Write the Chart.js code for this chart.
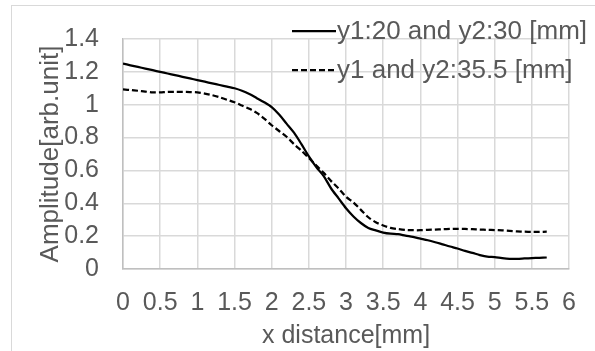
<!DOCTYPE html>
<html>
<head>
<meta charset="utf-8">
<script src="https://cdn.jsdelivr.net/npm/chart.js@4"></script>
<style>
    html, body { margin: 0; padding: 0; background: #fff; }
    #wrap { width: 595px; height: 351px; position: relative; }
</style>
</head>
<body>
<div id="wrap"><canvas id="ampChart" width="595" height="351"></canvas></div>
<script>
// x distance [mm]
const xDistance = [
    0, 0.1, 0.2, 0.3, 0.4, 0.5, 0.6, 0.7, 0.8, 0.9,
    1, 1.1, 1.2, 1.3, 1.4, 1.5, 1.6, 1.7, 1.8, 1.9,
    2, 2.1, 2.2, 2.3, 2.4, 2.5, 2.6, 2.7, 2.8, 2.9,
    3, 3.1, 3.2, 3.3, 3.4, 3.5, 3.6, 3.7, 3.8, 3.9,
    4, 4.1, 4.2, 4.3, 4.4, 4.5, 4.6, 4.7, 4.8, 4.9,
    5, 5.1, 5.2, 5.3, 5.4, 5.5, 5.6, 5.7
];

// y1:20 and y2:30 [mm]
const ampSolid = [
    1.25, 1.24, 1.23, 1.22, 1.21, 1.2, 1.19, 1.18, 1.17, 1.16,
    1.15, 1.14, 1.13, 1.12, 1.11, 1.1, 1.085, 1.065, 1.04, 1.015,
    0.985, 0.94, 0.885, 0.83, 0.76, 0.685, 0.62, 0.565, 0.49, 0.43,
    0.37, 0.32, 0.28, 0.25, 0.235, 0.222, 0.215, 0.212, 0.203, 0.195,
    0.185, 0.175, 0.163, 0.15, 0.137, 0.125, 0.11, 0.098, 0.085, 0.075,
    0.072, 0.066, 0.062, 0.062, 0.064, 0.066, 0.068, 0.07
];

// y1 and y2:35.5 [mm]
const ampDashed = [
    1.093, 1.09, 1.085, 1.08, 1.075, 1.075, 1.078, 1.078, 1.078, 1.077,
    1.075, 1.068, 1.058, 1.045, 1.03, 1.015, 0.995, 0.975, 0.95, 0.915,
    0.875, 0.84, 0.805, 0.76, 0.72, 0.676, 0.63, 0.585, 0.535, 0.49,
    0.44, 0.405, 0.36, 0.315, 0.285, 0.265, 0.25, 0.243, 0.238, 0.236,
    0.236, 0.238, 0.24, 0.242, 0.244, 0.245, 0.244, 0.242, 0.24, 0.238,
    0.237, 0.235, 0.232, 0.229, 0.227, 0.226, 0.226, 0.227
];

const seriesLabels = ['y1:20 and y2:30 [mm]', 'y1 and y2:35.5 [mm]'];

const FONT = "'Liberation Sans', Arial, sans-serif";
const TEXT_COLOR = '#595959';
const GRID_COLOR = '#d9d9d9';

function toPoints(xs, ys) {
    return xs.map((x, i) => ({ x: x, y: ys[i] }));
}

// borde exterior y leyenda dentro del área del gráfico
const framePlugin = {
    id: 'frame',
    beforeDraw(chart) {
        const ctx = chart.ctx;
        ctx.save();
        ctx.fillStyle = '#fff';
        ctx.fillRect(0, 0, chart.width, chart.height);
        ctx.strokeStyle = GRID_COLOR;
        ctx.lineWidth = 1;
        ctx.strokeRect(11.5, 5.5, chart.width, chart.height);
        ctx.restore();
    },
    afterDraw(chart) {
        const ctx = chart.ctx;
        ctx.save();
        ctx.font = '26px ' + FONT;
        ctx.textBaseline = 'middle';
        ctx.textAlign = 'left';
        const rows = [31, 70];
        chart.data.datasets.forEach((ds, i) => {
            const y = rows[i];
            ctx.strokeStyle = '#000';
            ctx.lineWidth = 2.25;
            ctx.setLineDash(ds.borderDash || []);
            ctx.beginPath();
            ctx.moveTo(292, y);
            ctx.lineTo(336, y);
            ctx.stroke();
            ctx.setLineDash([]);
            ctx.fillStyle = TEXT_COLOR;
            ctx.fillText(ds.label, 337, y + 1);
        });
        ctx.restore();
    }
};

const fmt = v => String(+Number(v).toFixed(2));

new Chart(document.getElementById('ampChart'), {
    type: 'line',
    data: {
        datasets: [{
            label: seriesLabels[0],
            data: toPoints(xDistance, ampSolid),
            borderColor: '#000',
            borderWidth: 2.25,
            pointRadius: 0,
            tension: 0.3,
            fill: false
        }, {
            label: seriesLabels[1],
            data: toPoints(xDistance, ampDashed),
            borderColor: '#000',
            borderWidth: 2.25,
            borderDash: [6, 3],
            pointRadius: 0,
            tension: 0.3,
            fill: false
        }]
    },
    options: {
        responsive: false,
        animation: false,
        events: [],
        layout: { padding: { top: 24, right: 22, left: 0, bottom: 0 } },
        plugins: {
            legend: { display: false },
            tooltip: { enabled: false }
        },
        scales: {
            x: {
                type: 'linear',
                min: 0,
                max: 6,
                afterFit: s => { s.height = 82; },
                ticks: {
                    stepSize: 0.5,
                    padding: 19,
                    color: TEXT_COLOR,
                    font: { family: FONT, size: 25 },
                    maxRotation: 0,
                    autoSkip: false,
                    callback: fmt
                },
                grid: { color: GRID_COLOR, lineWidth: 1.5, drawTicks: false },
                border: { color: '#bfbfbf', width: 1.5 },
                title: {
                    display: true,
                    text: 'x distance[mm]',
                    color: TEXT_COLOR,
                    font: { family: FONT, size: 25 },
                    padding: { top: 0, bottom: 0 }
                }
            },
            y: {
                min: 0,
                max: 1.4,
                afterFit: s => { s.width = 123; },
                ticks: {
                    stepSize: 0.2,
                    padding: 24,
                    color: TEXT_COLOR,
                    font: { family: FONT, size: 25 },
                    autoSkip: false,
                    callback: fmt
                },
                grid: { color: GRID_COLOR, lineWidth: 1.5, drawTicks: false },
                border: { color: '#bfbfbf', width: 1.5 },
                title: {
                    display: true,
                    text: 'Amplitude[arb.unit]',
                    color: TEXT_COLOR,
                    font: { family: FONT, size: 26 },
                    padding: { top: 35, bottom: 0 }
                }
            }
        }
    },
    plugins: [framePlugin]
});
</script>
</body>
</html>
